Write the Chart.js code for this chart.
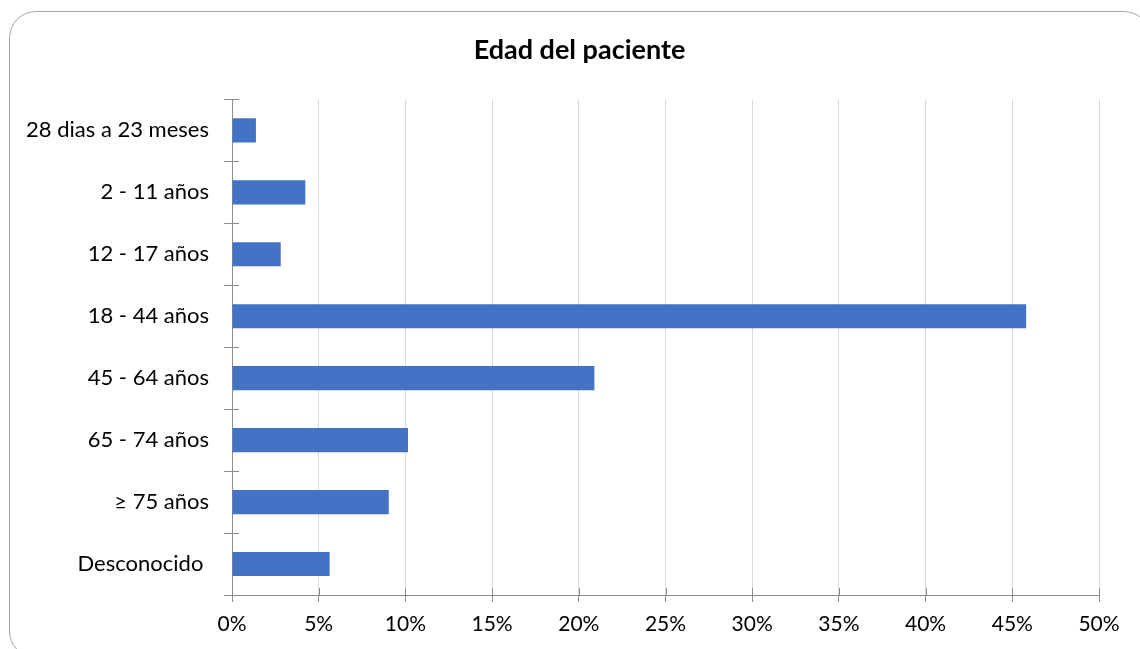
<!DOCTYPE html>
<html>
<head>
<meta charset="utf-8">
<script src="https://cdn.jsdelivr.net/npm/chart.js@4"></script>
<style>
    html, body { margin: 0; padding: 0; background: #fff; overflow: hidden; }
    #wrap { position: relative; width: 1140px; height: 649px; }
    #frame {
        position: absolute; left: 9px; top: 11px;
        width: 1140px; height: 645px;
        border: 1px solid #a6a6a6; border-radius: 27px;
    }
    canvas { position: absolute; left: 0; top: 0; }
</style>
</head>
<body>
<div id="wrap">
    <div id="frame"></div>
    <canvas id="edadChart" width="1140" height="649"></canvas>
</div>
<script>
// Grupos de edad y porcentaje de pacientes
const categorias = ['28 dias a 23 meses', '2 - 11 años', '12 - 17 años', '18 - 44 años',
    '45 - 64 años', '65 - 74 años', '≥ 75 años', 'Desconocido '];
const porcentajes = [1.38, 4.23, 2.81, 45.8, 20.9, 10.15, 9.04, 5.63];
const ejeMax = 50;
const ejePaso = 5;

const fuente = 'Lato, "Open Sans", sans-serif';
const gris = '#8c8c8c';

// Centrar el titulo sobre todo el recuadro y no solo sobre el area del grafico
const tituloCentrado = {
    id: 'tituloCentrado',
    afterLayout(chart) {
        if (chart.titleBlock) {
            chart.titleBlock.left = 9;
            chart.titleBlock.right = 1150;
        }
    }
};

// Marcas cortas que cruzan los ejes hacia dentro del area del grafico
const marcasCruzadas = {
    id: 'marcasCruzadas',
    afterDraw(chart) {
        const ctx = chart.ctx;
        const area = chart.chartArea;
        const x = chart.scales.x;
        const n = categorias.length;
        ctx.save();
        ctx.strokeStyle = gris;
        ctx.lineWidth = 1;
        ctx.beginPath();
        for (let i = 0; i <= n; i++) {
            const y = Math.round(area.top + i * (area.bottom - area.top) / n) + 0.5;
            ctx.moveTo(area.left, y);
            ctx.lineTo(area.left + 7, y);
        }
        x.ticks.forEach(function(t, i) {
            const px = Math.round(x.getPixelForTick(i)) + 0.5;
            ctx.moveTo(px, area.bottom);
            ctx.lineTo(px, area.bottom - 7);
        });
        ctx.stroke();
        ctx.restore();
    }
};

const ctx = document.getElementById('edadChart').getContext('2d');

new Chart(ctx, {
    type: 'bar',
    data: {
        labels: categorias,
        datasets: [{
            label: 'Edad del paciente',
            data: porcentajes,
            backgroundColor: '#4472C4',
            borderWidth: 0,
            categoryPercentage: 1,
            barPercentage: 0.39
        }]
    },
    options: {
        indexAxis: 'y',
        responsive: false,
        animation: false,
        layout: { padding: { left: 0, right: 41, top: 0, bottom: 0 } },
        plugins: {
            legend: { display: false },
            tooltip: { enabled: false },
            title: {
                display: true,
                text: 'Edad del paciente',
                color: '#000',
                font: { family: fuente, size: 27, weight: 'bold', lineHeight: 1.2 },
                padding: { top: 34, bottom: 33 }
            }
        },
        scales: {
            x: {
                min: 0,
                max: ejeMax,
                ticks: {
                    stepSize: ejePaso,
                    color: '#000',
                    padding: 10,
                    font: { family: fuente, size: 21 },
                    callback: function(v) { return v + '%'; }
                },
                grid: {
                    color: '#d9d9d9',
                    tickColor: gris,
                    tickLength: 7
                },
                border: { color: gris },
                afterFit: function(scale) { scale.height = 54; }
            },
            y: {
                ticks: {
                    color: '#000',
                    padding: 15,
                    font: { family: fuente, size: 22 }
                },
                grid: {
                    offset: true,
                    drawOnChartArea: false,
                    tickColor: gris,
                    tickLength: 8
                },
                border: { color: gris },
                afterFit: function(scale) { scale.width = 232; }
            }
        }
    },
    plugins: [tituloCentrado, marcasCruzadas]
});
</script>
</body>
</html>
